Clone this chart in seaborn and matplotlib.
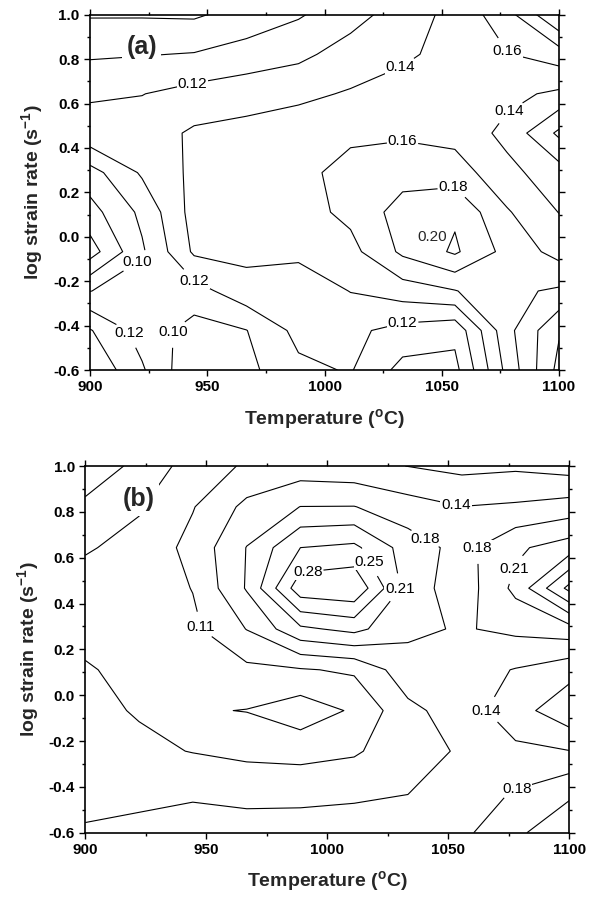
import numpy as np
import matplotlib
matplotlib.use("Agg")
import matplotlib.pyplot as plt
from matplotlib.ticker import MultipleLocator, FormatStrFormatter
import seaborn as sns

sns.set_style("ticks")
plt.rcParams["font.family"] = ["Liberation Sans", "DejaVu Sans"]
plt.rcParams["mathtext.fontset"] = "custom"
plt.rcParams["mathtext.rm"] = "Liberation Sans"
plt.rcParams["mathtext.bf"] = "Liberation Sans:bold"
plt.rcParams["axes.unicode_minus"] = False

# grid of the processing map
temps = [900.0, 922.2, 944.4, 966.7, 988.9, 1011.1, 1033.3, 1055.6, 1077.8, 1100.0]
log_rates = [-0.6, -0.422, -0.244, -0.067, 0.111, 0.289, 0.467, 0.644, 0.822, 1.0]

# efficiency values, rows = strain rate (bottom to top), cols = temperature
eff_a = [
    [0.158, 0.1225, 0.083, 0.0946, 0.1155, 0.1215, 0.0936, 0.0939, 0.1658, 0.226],
    [0.1415, 0.1116, 0.0923, 0.0995, 0.1258, 0.1247, 0.113, 0.1058, 0.1736, 0.218],
    [0.0995, 0.112, 0.112, 0.1325, 0.127, 0.1406, 0.150, 0.159, 0.1755, 0.183],
    [0.051, 0.0972, 0.1432, 0.145, 0.145, 0.1536, 0.184, 0.203, 0.1735, 0.153],
    [0.0723, 0.1046, 0.1477, 0.150, 0.152, 0.165, 0.1884, 0.197, 0.162, 0.1395],
    [0.092, 0.1227, 0.1446, 0.148, 0.153, 0.1685, 0.172, 0.170, 0.1456, 0.129],
    [0.135, 0.13, 0.143, 0.146, 0.150, 0.155, 0.157, 0.153, 0.1347, 0.096],
    [0.1156, 0.1195, 0.127, 0.132, 0.136, 0.1417, 0.147, 0.150, 0.145, 0.1363],
    [0.0975, 0.099, 0.101, 0.108, 0.115, 0.129, 0.137, 0.146, 0.159, 0.170],
    [0.0784, 0.0783, 0.0774, 0.0878, 0.098, 0.112, 0.13, 0.146, 0.172, 0.221],
]
eff_b = [
    [0.15, 0.155, 0.16, 0.155, 0.156, 0.158, 0.16, 0.172, 0.208, 0.241],
    [0.13, 0.135, 0.14, 0.138, 0.138, 0.14, 0.144, 0.165, 0.182, 0.208],
    [0.125, 0.118, 0.1087, 0.10, 0.096, 0.105, 0.134, 0.148, 0.152, 0.146],
    [0.12, 0.107, 0.078, 0.074, 0.056, 0.0795, 0.136, 0.162, 0.125, 0.085],
    [0.113, 0.1005, 0.098, 0.102, 0.107, 0.1153, 0.166, 0.16, 0.1433, 0.123],
    [0.10, 0.098, 0.103, 0.146, 0.208, 0.225, 0.187, 0.177, 0.188, 0.2],
    [0.088, 0.09, 0.111, 0.183, 0.307, 0.315, 0.199, 0.16, 0.224, 0.33],
    [0.072, 0.085, 0.121, 0.181, 0.25, 0.258, 0.198, 0.168, 0.209, 0.232],
    [0.045, 0.072, 0.108, 0.154, 0.1805, 0.181, 0.16, 0.1455, 0.15, 0.16],
    [0.025, 0.046, 0.093, 0.114, 0.125, 0.12, 0.1095, 0.10, 0.104, 0.095],
]

levels_a = [0.06, 0.08, 0.10, 0.12, 0.14, 0.16, 0.18, 0.20, 0.22]
levels_b = [0.04, 0.075, 0.11, 0.145, 0.18, 0.215, 0.25, 0.285, 0.32]

# where the contour labels sit
labels_a = [(944, 0.676), (1033, 0.752), (1076, 0.82), (1077, 0.594),
            (1033, 0.455), (1055, 0.212), (922, -0.149), (944, -0.21),
            (918, -0.428), (934, -0.428), (1033, -0.367)]
labels_b = [(944, 0.29), (992, 0.532), (1019, 0.589), (1033, 0.44),
            (1042, 0.712), (1053, 0.821), (1062, 0.642), (1078, 0.549),
            (1065, -0.065), (1078, -0.399)]

fig = plt.figure(figsize=(5.94, 8.99), dpi=100)
ax_a = fig.add_axes([0.1515, 0.5884, 0.7896, 0.3952])
ax_b = fig.add_axes([0.1436, 0.0737, 0.8148, 0.4079])


def draw_map(ax, z, levels, label_pos, tag):
    cs = ax.contour(temps, log_rates, np.array(z), levels=levels,
                    colors="black", linewidths=0.8)
    texts = ax.clabel(cs, fmt="%.2f", manual=label_pos, inline=True,
                      fontsize=11, inline_spacing=1)
    for t in texts:
        t.set_rotation(0)
        t.set_bbox(dict(facecolor="white", edgecolor="none", pad=0.5))
    ax.set_xlim(900, 1100)
    ax.set_ylim(-0.6, 1.0)
    ax.xaxis.set_major_locator(MultipleLocator(50))
    ax.xaxis.set_minor_locator(MultipleLocator(25))
    ax.yaxis.set_major_locator(MultipleLocator(0.2))
    ax.yaxis.set_minor_locator(MultipleLocator(0.1))
    ax.yaxis.set_major_formatter(FormatStrFormatter("%.1f"))
    ax.tick_params(which="both", direction="out", top=True, right=True,
                   colors="black", width=1.0)
    ax.tick_params(which="major", length=4, labelsize=11)
    ax.tick_params(which="minor", length=2.5)
    for lab in ax.get_xticklabels() + ax.get_yticklabels():
        lab.set_fontweight("bold")
    for sp in ax.spines.values():
        sp.set_color("black")
        sp.set_linewidth(1.2)
    ax.set_xlabel(r"Temperature ($^{\mathbf{o}}$C)", fontsize=14,
                  fontweight="bold", labelpad=9)
    ax.set_ylabel(r"log strain rate (s$^{\mathbf{-1}}$)", fontsize=14,
                  fontweight="bold", labelpad=5)
    ax.text(922, 0.855, tag, fontsize=18, fontweight="bold", ha="center",
            va="center", zorder=5,
            bbox=dict(facecolor="white", edgecolor="none", pad=3))


draw_map(ax_a, eff_a, levels_a, labels_a, "(a)")
ax_a.text(1046, 0.0, "0.20", fontsize=11, ha="center", va="center")
draw_map(ax_b, eff_b, levels_b, labels_b, "(b)")

fig.savefig("out.png", dpi=100, facecolor="white")
